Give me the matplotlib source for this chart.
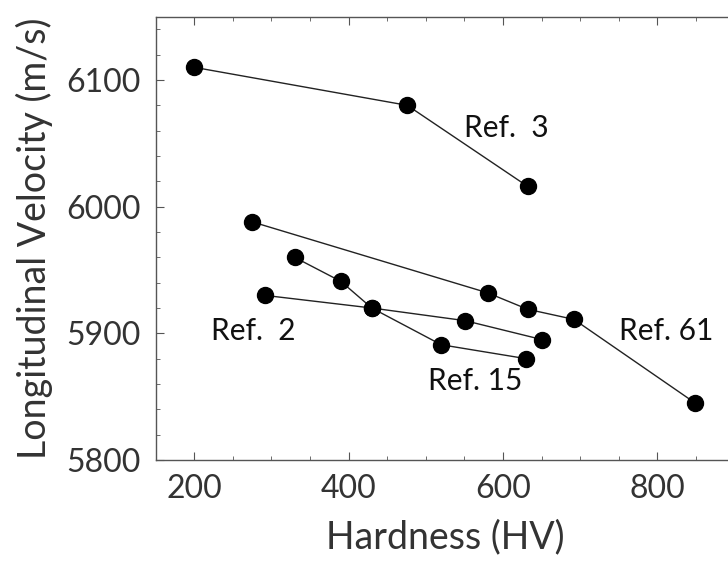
import numpy as np
import matplotlib.pyplot as plt
from matplotlib.ticker import MultipleLocator

plt.rcParams['font.family'] = ['Lato', 'DejaVu Sans']

# data
ref3_hv = [200, 476, 632]
ref3_v = [6110, 6080, 6016]

ref61_hv = [275, 580, 632, 692, 849]
ref61_v = [5988, 5932, 5919, 5911, 5845]

ref2_hv = [291, 430, 551, 651]
ref2_v = [5930, 5920, 5910, 5895]

ref15_hv = [330, 390, 430, 520, 630]
ref15_v = [5960, 5941, 5920, 5891, 5880]

labels = ['Ref.  3', 'Ref. 61', 'Ref.  2', 'Ref. 15']
label_hv = [604, 812, 276, 564]
label_v = [6062, 5902, 5902, 5862]

txt = '#333333'
fig = plt.figure(figsize=(7.28, 5.73), dpi=100)
ax = fig.add_axes([0.2139, 0.1972, 0.795, 0.7737])

for hv, v in [(ref3_hv, ref3_v), (ref61_hv, ref61_v), (ref2_hv, ref2_v), (ref15_hv, ref15_v)]:
    ax.plot(hv, v, color='#222222', lw=1.0, marker='o', ms=11.5, mfc='black', mec='black')

for lab, x, y in zip(labels, label_hv, label_v):
    ax.text(x, y, lab, fontsize=21.5, color='#111111', ha='center', va='center')

ax.set_xlim(150, 900)
ax.set_ylim(5800, 6150)
ax.xaxis.set_major_locator(MultipleLocator(200))
ax.xaxis.set_minor_locator(MultipleLocator(50))
ax.yaxis.set_major_locator(MultipleLocator(100))
ax.yaxis.set_minor_locator(MultipleLocator(20))
ax.tick_params(which='both', direction='in', top=True, right=False, colors='#555555',
               labelcolor=txt, labelsize=23)
ax.tick_params(axis='y', pad=11)
ax.tick_params(axis='x', pad=10)
ax.tick_params(which='major', length=6)
ax.tick_params(which='minor', length=3)
ax.spines['right'].set_visible(False)
for s in ['left', 'bottom', 'top']:
    ax.spines[s].set_color('#555555')
    ax.spines[s].set_linewidth(1.0)

ax.set_xlabel('Hardness (HV)', fontsize=27, color=txt, labelpad=11)
ax.set_ylabel('Longitudinal Velocity (m/s)', fontsize=27, color=txt, labelpad=9)

fig.savefig('out.png', dpi=100)
